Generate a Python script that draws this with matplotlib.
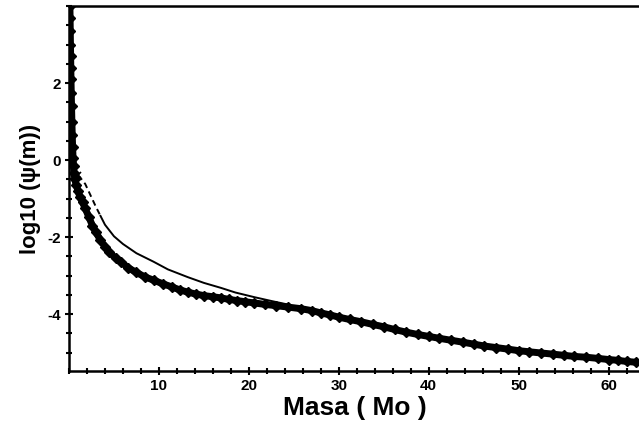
import numpy as np
import matplotlib.pyplot as plt
from matplotlib.ticker import MultipleLocator

plt.rcParams['axes.unicode_minus'] = False

# funcion de masa inicial: curva gruesa (puntos) y curva fina (ajuste)
masa_puntos = [0.10, 0.12, 0.14, 0.16, 0.18, 0.20, 0.22, 0.25, 0.28, 0.32,
               0.36, 0.40, 0.45, 0.50, 0.55, 0.65, 0.8, 1.0, 1.2, 1.5,
               1.8, 2.2, 2.6, 3.0, 3.5, 4.0, 4.5, 5.2, 5.8, 6.6,
               7.5, 8.4, 9.4, 10.4, 11.5, 12.3, 13.2, 14.1, 15.0, 16.0,
               16.9, 17.8, 18.7, 19.6, 20.6, 21.8, 23.0, 24.4, 25.8, 27.0,
               28.0, 29.0, 30.0, 31.2, 32.5, 33.8, 35.0, 36.2, 37.5, 38.8,
               40.0, 41.2, 42.5, 43.8, 45.0, 46.2, 47.5, 48.8, 50.0, 51.2,
               52.5, 53.8, 55.0, 56.2, 57.5, 58.8, 60.0, 61.0, 62.0, 63.0]
log_psi_puntos = [4.00, 3.70, 3.35, 3.00, 2.70, 2.40, 2.10, 1.75, 1.40, 1.00,
                  0.65, 0.35, 0.05, -0.15, -0.34, -0.50, -0.65, -0.80, -0.95, -1.10,
                  -1.25, -1.48, -1.70, -1.88, -2.08, -2.25, -2.40, -2.55, -2.65, -2.80,
                  -2.92, -3.03, -3.12, -3.21, -3.30, -3.37, -3.43, -3.48, -3.52, -3.55,
                  -3.58, -3.62, -3.65, -3.68, -3.71, -3.75, -3.78, -3.82, -3.86, -3.91,
                  -3.97, -4.02, -4.08, -4.14, -4.20, -4.27, -4.33, -4.40, -4.47, -4.53,
                  -4.58, -4.63, -4.68, -4.73, -4.78, -4.83, -4.87, -4.91, -4.95, -4.98,
                  -5.01, -5.04, -5.07, -5.10, -5.12, -5.15, -5.18, -5.20, -5.23, -5.25]

masa_ajuste = [1.0, 1.4, 1.8, 2.4, 3.0, 3.5, 4.0, 5.0, 6.0, 7.5,
               9.4, 11.0, 13.2, 15.0, 16.9, 18.5, 20.6, 22.5, 24.5]
log_psi_ajuste = [-0.40, -0.50, -0.62, -0.92, -1.22, -1.45, -1.68, -1.98, -2.18, -2.42,
                  -2.64, -2.84, -3.04, -3.19, -3.32, -3.44, -3.56, -3.66, -3.76]

fig = plt.figure(figsize=(6.39, 4.28), dpi=100)
ax = fig.add_axes([0.108, 0.133, 0.895, 0.853])

m_aj = np.array(masa_ajuste)
l_aj = np.array(log_psi_ajuste)
tramo = m_aj <= 3.5
ax.plot(m_aj[tramo], l_aj[tramo], color='black', lw=1.4, ls=(0, (3, 2)))
ax.plot(m_aj[m_aj >= 3.5], l_aj[m_aj >= 3.5], color='black', lw=1.4)
ax.plot(m_aj[:1], l_aj[:1], 'x', color='black', ms=5, mew=1.2)

ax.plot(masa_puntos, log_psi_puntos, color='black', lw=5,
        marker='D', ms=5, mfc='black', mec='black')

ax.set_xlim(0, 63.6)
ax.set_ylim(-5.48, 4.0)
ax.xaxis.set_major_locator(MultipleLocator(10))
ax.xaxis.set_minor_locator(MultipleLocator(2))
ax.yaxis.set_major_locator(MultipleLocator(2))
ax.yaxis.set_minor_locator(MultipleLocator(0.5))

ax.set_xticks([10, 20, 30, 40, 50, 60])
ax.set_yticks([-4, -2, 0, 2])
ax.tick_params(which='both', direction='inout', width=1.5, top=False, right=False)
ax.tick_params(which='major', length=6, labelsize=11, pad=3)
ax.tick_params(which='minor', length=4)
for lab in ax.get_xticklabels() + ax.get_yticklabels():
    lab.set_fontweight('bold')
    lab.set_family('Liberation Sans')

for s in ['left', 'bottom', 'top']:
    ax.spines[s].set_linewidth(1.8)
ax.spines['right'].set_visible(False)

ax.set_xlabel('Masa ( Mo )', fontsize=19, fontweight='bold',
              family='Liberation Sans', labelpad=2)
ax.set_ylabel('log10 (ψ(m))', fontsize=16, fontweight='bold',
              family='Liberation Sans', labelpad=4)

fig.savefig('out.png', dpi=100)
